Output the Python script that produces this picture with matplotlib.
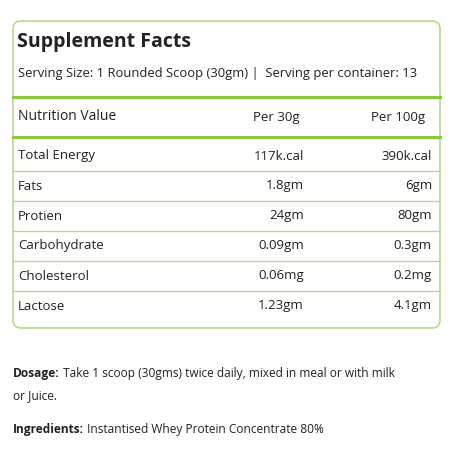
import matplotlib
matplotlib.use("Agg")
import matplotlib.pyplot as plt
from matplotlib.patches import FancyBboxPatch

nutrients = ["Total Energy", "Fats", "Protien", "Carbohydrate", "Cholesterol", "Lactose"]
per30 = ["117k.cal", "1.8gm", "24gm", "0.09gm", "0.06mg", "1.23gm"]
per100 = ["390k.cal", "6gm", "80gm", "0.3gm", "0.2mg", "4.1gm"]

plt.rcParams['font.family'] = ['Open Sans', 'DejaVu Sans']
fig = plt.figure(figsize=(4.5, 4.5), dpi=100)
ax = fig.add_axes([0, 0, 1, 1])
ax.set_xlim(0, 450); ax.set_ylim(450, 0); ax.axis('off')
green = '#8cc63f'
tc = '#222222'
ax.add_patch(FancyBboxPatch((13, 21), 427, 307, boxstyle="round,pad=0,rounding_size=8",
                            fc='white', ec='#b5d98a', lw=1.2))
ax.text(17, 42, "Supplement Facts", fontsize=14, fontweight='bold', color=tc, va='center')
ax.text(18, 73, "Serving Size: 1 Rounded Scoop (30gm) |  Serving per container: 13",
        fontsize=9.4, color=tc, va='center')
for y in (97, 137):
    ax.plot([13, 440], [y, y], color=green, lw=2.2)
ax.text(18, 117, "Nutrition Value", fontsize=10, color=tc, va='center')
ax.text(300, 117, "Per 30g", fontsize=9.5, color=tc, va='center', ha='right')
ax.text(425, 117, "Per 100g", fontsize=9.5, color=tc, va='center', ha='right')
y0, dy = 156, 30
for i, (n, a, b) in enumerate(zip(nutrients, per30, per100)):
    y = y0 + i * dy
    ax.text(18, y, n, fontsize=9.5, color=tc, va='center')
    ax.text(304, y, a, fontsize=9.5, color=tc, va='center', ha='right')
    ax.text(432, y, b, fontsize=9.5, color=tc, va='center', ha='right')
    if i < len(nutrients) - 1:
        ax.plot([13, 440], [y + 15, y + 15], color='#b5d98a', lw=0.9)

def labeled(y, label, rest, fs=8.6):
    t = ax.text(13, y, label, fontsize=fs, fontweight='bold', color=tc, va='center')
    ax.annotate(" " + rest, xy=(1, 0.5), xycoords=t, va='center', ha='left',
                fontsize=fs, color=tc)

labeled(374, "Dosage:", "Take 1 scoop (30gms) twice daily, mixed in meal or with milk")
ax.text(13, 396, "or Juice.", fontsize=8.6, color=tc, va='center')
labeled(430, "Ingredients:", "Instantised Whey Protein Concentrate 80%")
fig.savefig("out.png", dpi=100)
